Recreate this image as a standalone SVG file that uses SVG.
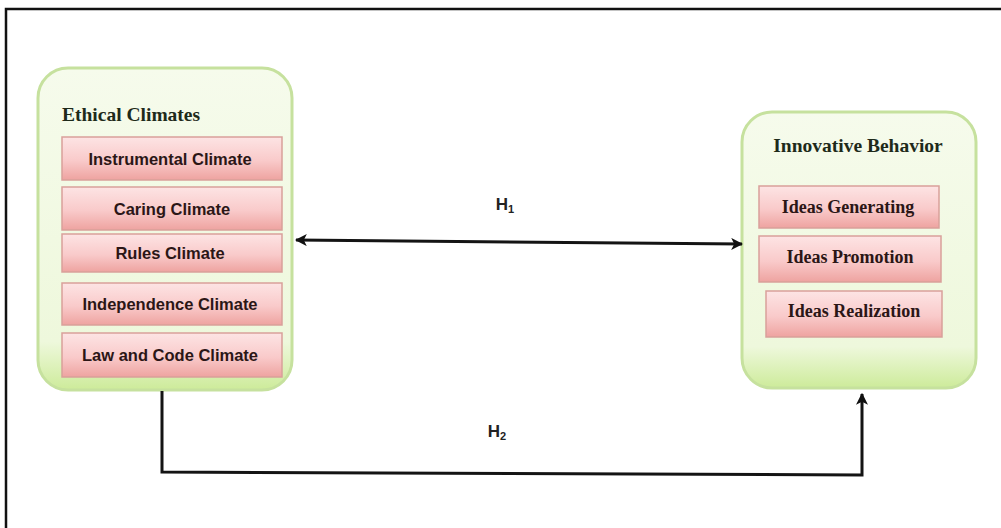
<svg xmlns="http://www.w3.org/2000/svg" width="1001" height="528" viewBox="0 0 1001 528">
<defs>
<linearGradient id="gGreen" x1="0" y1="0" x2="0" y2="1">
<stop offset="0" stop-color="#f6fbec"/>
<stop offset="0.85" stop-color="#eef8dc"/>
<stop offset="1" stop-color="#cdeb9a"/>
</linearGradient>
<linearGradient id="gRed" x1="0" y1="0" x2="0" y2="1">
<stop offset="0" stop-color="#fde4e4"/>
<stop offset="0.55" stop-color="#f9caca"/>
<stop offset="1" stop-color="#eea3a0"/>
</linearGradient>
<marker id="arr" viewBox="0 0 10 10" refX="9" refY="5" markerWidth="4" markerHeight="4" orient="auto-start-reverse" markerUnits="strokeWidth">
<path d="M0,0 L10,5 L0,10 L2.5,5 z" fill="#111"/>
</marker>
<style>
.frame{fill:none;stroke:#111;stroke-width:2.5}
.cont{fill:url(#gGreen);stroke:#c6e19e;stroke-width:3}
.item{fill:url(#gRed);stroke:#d9a09a;stroke-width:1.5}
.ttl{font-family:"Liberation Serif",serif;font-weight:bold;font-size:19.5px;fill:#1e2a1a}
.sans{font-family:"Liberation Sans",Arial,sans-serif;font-weight:bold;font-size:16.5px;fill:#2b1616;text-anchor:middle}
.serif{font-family:"Liberation Serif",serif;font-weight:bold;font-size:18px;fill:#2b1616;text-anchor:middle}
.lbl{font-family:"Liberation Sans",Arial,sans-serif;font-weight:bold;font-size:17px;fill:#222;text-anchor:middle}
.conn{fill:none;stroke:#141414;stroke-width:3}
</style>
</defs>
<rect width="1001" height="528" fill="#ffffff"/>
<path class="frame" d="M6,528 V9 H1001"/>

<g id="ethical-climates">
<rect class="cont" x="38" y="68" width="254" height="322" rx="30"/>
<text class="ttl" x="62" y="121">Ethical Climates</text>
<g id="instrumental"><rect class="item" x="62" y="137" width="220" height="43"/><text class="sans" x="170" y="164.5">Instrumental Climate</text></g>
<g id="caring"><rect class="item" x="62" y="187" width="220" height="43"/><text class="sans" x="172" y="214.5">Caring Climate</text></g>
<g id="rules"><rect class="item" x="62" y="234" width="220" height="38"/><text class="sans" x="170" y="259">Rules Climate</text></g>
<g id="independence"><rect class="item" x="62" y="283" width="220" height="42"/><text class="sans" x="170" y="310">Independence Climate</text></g>
<g id="law"><rect class="item" x="62" y="333" width="220" height="44"/><text class="sans" x="170" y="360.5">Law and Code Climate</text></g>
</g>

<g id="innovative-behavior">
<rect class="cont" x="742" y="112" width="234" height="276" rx="30"/>
<text class="ttl" x="858" y="152" text-anchor="middle">Innovative Behavior</text>
<g id="generating"><rect class="item" x="759" y="186" width="180" height="42"/><text class="serif" x="848" y="213">Ideas Generating</text></g>
<g id="promotion"><rect class="item" x="759" y="236" width="182" height="46"/><text class="serif" x="850" y="263">Ideas Promotion</text></g>
<g id="realization"><rect class="item" x="766" y="291" width="176" height="46"/><text class="serif" x="854" y="317">Ideas Realization</text></g>
</g>

<g id="connectors">
<line class="conn" x1="296" y1="240" x2="742" y2="244" marker-start="url(#arr)" marker-end="url(#arr)"/>
<text class="lbl" x="505" y="210">H<tspan font-size="11" dy="3">1</tspan></text>
<path class="conn" d="M162,391 V472 L862,475 V394" marker-end="url(#arr)"/>
<text class="lbl" x="497" y="437">H<tspan font-size="11" dy="3">2</tspan></text>
</g>
</svg>
